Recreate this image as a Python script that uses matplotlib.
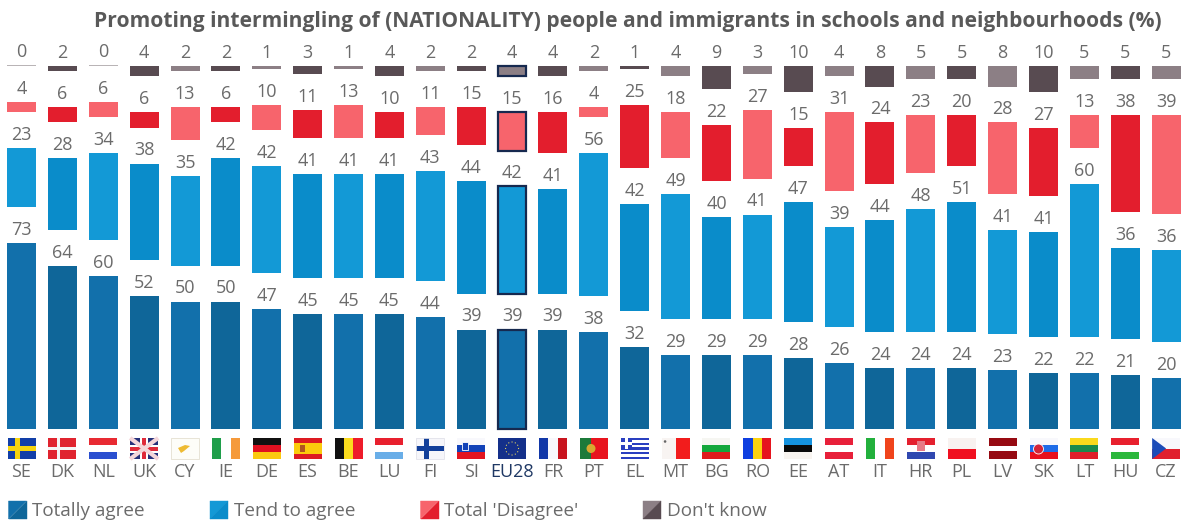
import matplotlib
matplotlib.use("Agg")
import matplotlib.pyplot as plt
from matplotlib.patches import Rectangle, Polygon, Circle
import numpy as np

countries = ["SE","DK","NL","UK","CY","IE","DE","ES","BE","LU","FI","SI","EU28","FR","PT",
             "EL","MT","BG","RO","EE","AT","IT","HR","PL","LV","SK","LT","HU","CZ"]
totally_agree = [73,64,60,52,50,50,47,45,45,45,44,39,39,39,38,32,29,29,29,28,26,24,24,24,23,22,22,21,20]
tend_to_agree = [23,28,34,38,35,42,42,41,41,41,43,44,42,41,56,42,49,40,41,47,39,44,48,51,41,41,60,36,36]
total_disagree = [4,6,6,6,13,6,10,11,13,10,11,15,15,16,4,25,18,22,27,15,31,24,23,20,28,27,13,38,39]
dont_know = [0,2,0,4,2,2,1,3,1,4,2,2,4,4,2,1,4,9,3,10,4,8,5,5,8,10,5,5,5]
series_names = ["Totally agree","Tend to agree","Total 'Disagree'","Don't know"]
title = "Promoting intermingling of (NATIONALITY) people and immigrants in schools and neighbourhoods (%)"

W, H = 1186, 523
X0, PITCH, BW = 21.5, 40.88, 29.0
Y0, UNIT, GAP = 429.0, 2.55, 14.1
TXT = "#6b6b6b"
FONT = ["Open Sans", "DejaVu Sans"]
plt.rcParams["font.family"] = FONT

# (even index colour, odd index colour)
shades = [("#1270ab", "#0f6699"), ("#1399d6", "#0a8cca"), ("#f7646c", "#e31e2d"), ("#8c7f85", "#584b51")]

fig = plt.figure(figsize=(W/100, H/100), dpi=100, facecolor="white")
ax = fig.add_axes([0, 0, 1, 1])
ax.set_xlim(-X0/PITCH, (W-X0)/PITCH)
ax.set_ylim(-(H-Y0)/UNIT, Y0/UNIT)
ax.axis("off")

x = np.arange(len(countries))
bottom = np.zeros(len(countries))
eu = countries.index("EU28")
for s, vals in enumerate([totally_agree, tend_to_agree, total_disagree, dont_know]):
    vals = np.array(vals, float)
    cols = [shades[s][i % 2] for i in x]
    draw = np.where(vals == 0, 0.25, vals)
    bars = ax.bar(x, draw, bottom=bottom, width=BW/PITCH, color=cols, linewidth=0, zorder=2)
    # highlight EU28
    b = bars[eu]
    ax.add_patch(Rectangle((b.get_x()+0.02, b.get_y()), b.get_width()-0.04, b.get_height(),
                           fill=False, ec="#16294f", lw=1.6, zorder=3))
    if s == 3:
        for i in x:
            if vals[i] == 0:
                bars[i].set_color("#b9b4b6")
    for i in x:
        ax.text(i, bottom[i]+draw[i]+1.6, f"{int(vals[i])}", ha="center", va="bottom",
                fontsize=13, color=TXT, zorder=4)
    bottom = bottom + vals + GAP

# overlay in pixel space for flags, legend, and title
ov = fig.add_axes([0, 0, 1, 1], facecolor="none")
ov.set_xlim(0, W); ov.set_ylim(H, 0); ov.axis("off")

ov.text(628, 21, title, ha="center", va="center", fontsize=15.1, fontweight="bold", color="#595959")

def stripes_h(l, t, w, h, cols, ratios=None):
    ratios = ratios or [1]*len(cols)
    tot = sum(ratios); y = t
    for c, r in zip(cols, ratios):
        ov.add_patch(Rectangle((l, y), w, h*r/tot, fc=c, lw=0)); y += h*r/tot
def stripes_v(l, t, w, h, cols, ratios=None):
    ratios = ratios or [1]*len(cols)
    tot = sum(ratios); xx = l
    for c, r in zip(cols, ratios):
        ov.add_patch(Rectangle((xx, t), w*r/tot, h, fc=c, lw=0)); xx += w*r/tot
def cross(l, t, w, h, bg, fg, frac=0.26):
    ov.add_patch(Rectangle((l, t), w, h, fc=bg, lw=0))
    cx = l + w*0.36; bh = h*frac
    ov.add_patch(Rectangle((cx-bh/2, t), bh, h, fc=fg, lw=0))
    ov.add_patch(Rectangle((l, t+h/2-bh/2), w, bh, fc=fg, lw=0))

def flag(code, l, t, w, h):
    R, B, WH = "#e8112d", "#0b3fb5", "#ffffff"
    if code == "SE": cross(l, t, w, h, "#123fa8", "#f6d40f")
    elif code == "DK": cross(l, t, w, h, "#e0242f", "#f4f4f4", 0.16)
    elif code == "NL": stripes_h(l, t, w, h, ["#e82a32", WH, "#2a4fd0"])
    elif code == "UK":
        ov.add_patch(Rectangle((l, t), w, h, fc="#26307a", lw=0))
        ov.plot([l, l+w], [t, t+h], color="#f4d6da", lw=3, solid_capstyle="butt")
        ov.plot([l, l+w], [t+h, t], color="#f4d6da", lw=3, solid_capstyle="butt")
        ov.add_patch(Rectangle((l+w/2-4, t), 8, h, fc=WH, lw=0))
        ov.add_patch(Rectangle((l, t+h/2-4), w, 8, fc=WH, lw=0))
        ov.add_patch(Rectangle((l+w/2-2, t), 4, h, fc="#df2a3a", lw=0))
        ov.add_patch(Rectangle((l, t+h/2-2), w, 4, fc="#df2a3a", lw=0))
    elif code == "CY":
        ov.add_patch(Rectangle((l, t), w, h, fc="#fdfdf8", ec="#e4e0d0", lw=0.6))
        ov.add_patch(Polygon([(l+7, t+10), (l+14, t+7), (l+19, t+8), (l+13, t+13), (l+10, t+15)], fc="#eebb33", lw=0))
    elif code == "IE": stripes_v(l, t, w, h, ["#1f9e4a", WH, "#f59a3b"])
    elif code == "DE": stripes_h(l, t, w, h, ["#111111", "#e01020", "#fbc910"])
    elif code == "ES":
        stripes_h(l, t, w, h, ["#dd1a22", "#fbcb0c", "#dd1a22"], [1, 2, 1])
        ov.add_patch(Rectangle((l+6, t+7), 5, 7, fc="#b0551f", lw=0))
    elif code == "BE": stripes_v(l, t, w, h, ["#111111", "#fbdc1e", "#ee1c2a"])
    elif code == "LU": stripes_h(l, t, w, h, ["#e8202e", WH, "#69aee8"])
    elif code == "FI":
        cross(l, t, w, h, "#f6f6fa", "#123f9a")
        ov.add_patch(Rectangle((l, t), w, h, fill=False, ec="#e2e2ea", lw=0.6))
    elif code == "SI":
        stripes_h(l, t, w, h, ["#f8f8fc", "#1242b8", "#e3141f"])
        ov.add_patch(Rectangle((l+5, t+4), 6, 8, fc="#1242b8", ec=WH, lw=0.6))
    elif code == "EU28":
        ov.add_patch(Rectangle((l, t), w, h, fc="#14308a", lw=0))
        for a in np.linspace(0, 2*np.pi, 12, endpoint=False):
            ov.add_patch(Circle((l+w/2+6.5*np.cos(a), t+h/2+6.5*np.sin(a)), 0.6, fc="#e8d860", lw=0))
    elif code == "FR": stripes_v(l, t, w, h, ["#1238a8", "#f8f8fc", "#c8141e"])
    elif code == "PT":
        stripes_v(l, t, w, h, ["#1c7a3a", "#e8141e"], [2, 3])
        ov.add_patch(Circle((l+w*0.4, t+h/2), 4.5, fc="#d8a830", lw=0))
    elif code == "EL":
        stripes_h(l, t, w, h, ["#2a3fc0", WH]*4 + ["#2a3fc0"])
        ov.add_patch(Rectangle((l, t), 11, 11, fc="#2a3fc0", lw=0))
        ov.add_patch(Rectangle((l+4.2, t), 2.6, 11, fc=WH, lw=0))
        ov.add_patch(Rectangle((l, t+4.2), 11, 2.6, fc=WH, lw=0))
    elif code == "MT":
        stripes_v(l, t, w, h, ["#f8f4f2", "#f21c1c"])
        ov.add_patch(Circle((l+3.5, t+3.5), 1.3, fc="#666666", lw=0))
    elif code == "BG": stripes_h(l, t, w, h, ["#f6f6f2", "#14a83c", "#e01c1c"])
    elif code == "RO": stripes_v(l, t, w, h, ["#0f3fe0", "#fcd20f", "#e6141e"])
    elif code == "EE": stripes_h(l, t, w, h, ["#1593e0", "#0a0a0a", "#f8f4f0"])
    elif code == "AT": stripes_h(l, t, w, h, ["#e8203a", WH, "#e8203a"])
    elif code == "IT": stripes_v(l, t, w, h, ["#22b03c", WH, "#f0441c"])
    elif code == "HR":
        stripes_h(l, t, w, h, ["#e4202e", WH, "#3048b0"])
        ov.add_patch(Rectangle((l+w/2-4, t+3), 8, 10, fc="#e77a86", lw=0))
    elif code == "PL": stripes_h(l, t, w, h, ["#f8f2f0", "#f01020"])
    elif code == "LV": stripes_h(l, t, w, h, ["#960a12", WH, "#960a12"], [2, 1, 2])
    elif code == "SK":
        stripes_h(l, t, w, h, ["#f8f8fc", "#1f6ce8", "#e8101e"])
        ov.add_patch(Circle((l+9, t+11), 5, fc="#d42438", ec=WH, lw=0.6))
    elif code == "LT": stripes_h(l, t, w, h, ["#fad91c", "#1b8a4c", "#e0202a"])
    elif code == "HU": stripes_h(l, t, w, h, ["#e8202e", WH, "#2cb83c"])
    elif code == "CZ":
        stripes_h(l, t, w, h, ["#f8f8fc", "#e0202e"])
        ov.add_patch(Polygon([(l, t), (l+w*0.5, t+h/2), (l, t+h)], fc="#1c4cb8", lw=0))

for i, c in enumerate(countries):
    cx = X0 + i*PITCH
    flag(c, cx-14, 438, 28, 21)
    ov.text(cx, 472, c, ha="center", va="center", fontsize=13,
            color="#1f3864" if c == "EU28" else TXT)

legend_x = [8.5, 210, 420.5, 643]
for s, (name, lx) in enumerate(zip(series_names, legend_x)):
    a, b = shades[s]
    ov.add_patch(Polygon([(lx, 501), (lx+18, 501), (lx, 519)], fc=a, ec=a, lw=0.3))
    ov.add_patch(Polygon([(lx+18, 501), (lx+18, 519), (lx, 519)], fc=b, ec=b, lw=0.3))
    ov.text(lx+24, 510.5, name, ha="left", va="center", fontsize=13.6, color=TXT)

fig.savefig("out.png", dpi=100, facecolor="white")
